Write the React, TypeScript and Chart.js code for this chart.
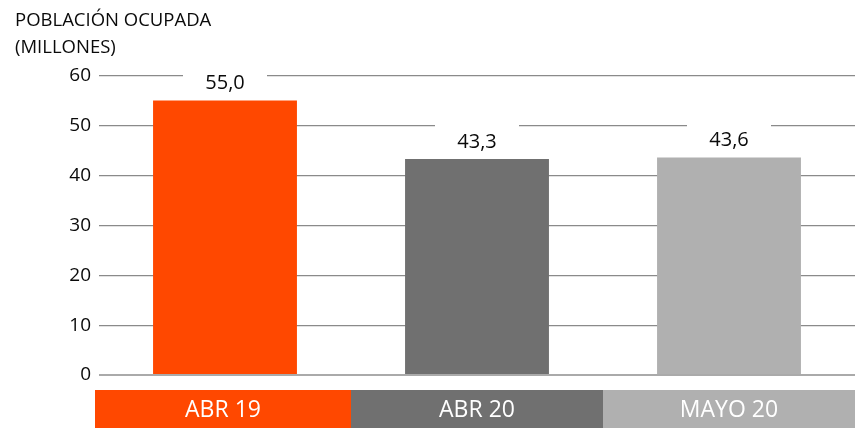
import React, { useEffect, useRef } from "react";
import { Chart, registerables } from "chart.js";

Chart.register(...registerables);

const categories: string[] = ["ABR 19", "ABR 20", "MAYO 20"];
const values: number[] = [55.0, 43.3, 43.6];
const valueLabels: string[] = ["55,0", "43,3", "43,6"];
const barColors: string[] = ["#FF4800", "#707070", "#B0B0B0"];
const titleLines: string[] = ["POBLACIÓN OCUPADA", "(MILLONES)"];
const yMin = 0;
const yMax = 60;
const yStep = 10;

const FONT = "'Open Sans', 'Noto Sans', sans-serif";

const barLabelPlugin = {
  id: "barLabelPlugin",
  afterDatasetsDraw(chart: any) {
    const ctx = chart.ctx;
    const meta = chart.getDatasetMeta(0);
    ctx.save();
    meta.data.forEach((el: any, i: number) => {
      const x = el.x;
      const y = el.y;
      ctx.fillStyle = "#ffffff";
      ctx.fillRect(x - 42, y - 36, 84, 32);
      ctx.fillStyle = "#0a0a0a";
      ctx.font = `20px ${FONT}`;
      ctx.textAlign = "center";
      ctx.textBaseline = "middle";
      ctx.fillText(valueLabels[i], x, y - 17);
    });
    ctx.restore();
  },
};

const categoryBoxPlugin = {
  id: "categoryBoxPlugin",
  afterDraw(chart: any) {
    const ctx = chart.ctx;
    const xs = chart.scales.x;
    const area = chart.chartArea;
    const n = categories.length;
    const half = (area.right - area.left) / n / 2;
    const top = area.bottom + 15;
    const bottom = chart.height;
    ctx.save();
    categories.forEach((label, i) => {
      const c = xs.getPixelForValue(i);
      const left = i === 0 ? area.left - 4 : c - half;
      const right = i === n - 1 ? chart.width : c + half;
      ctx.fillStyle = barColors[i];
      ctx.fillRect(left, top, right - left, bottom - top);
      ctx.fillStyle = "#ffffff";
      ctx.font = `23px ${FONT}`;
      ctx.textAlign = "center";
      ctx.textBaseline = "middle";
      ctx.fillText(label, (left + right) / 2, (top + bottom) / 2 + 1);
    });
    ctx.restore();
  },
};

export default function App() {
  const canvasRef = useRef<HTMLCanvasElement | null>(null);

  useEffect(() => {
    document.body.style.margin = "0";
    const canvas = canvasRef.current;
    if (!canvas) return;
    const chart = new Chart(canvas, {
      type: "bar",
      data: {
        labels: categories,
        datasets: [
          {
            data: values,
            backgroundColor: barColors,
            borderWidth: 0,
            categoryPercentage: 1,
            barPercentage: 0.571,
          },
        ],
      },
      options: {
        animation: false,
        responsive: true,
        maintainAspectRatio: false,
        layout: { padding: { left: 15, right: 0, top: 0, bottom: 53 } },
        plugins: {
          legend: { display: false },
          tooltip: { enabled: false },
          title: {
            display: true,
            text: titleLines,
            align: "start",
            color: "#0a0a0a",
            font: { family: FONT, size: 18.5, weight: "normal", lineHeight: 1.45 },
            padding: { top: 7, bottom: 15 },
          },
        },
        scales: {
          x: {
            display: false,
            grid: { display: false },
          },
          y: {
            min: yMin,
            max: yMax,
            border: { display: false },
            afterFit(scale: any) {
              scale.width = 84;
            },
            grid: {
              drawTicks: false,
              color: (c: any) => (c.tick && c.tick.value === 0 ? "#AAAAAA" : "#8A8A8A"),
              lineWidth: (c: any) => (c.tick && c.tick.value === 0 ? 2 : 1.2),
            },
            ticks: {
              stepSize: yStep,
              padding: 8,
              color: "#0a0a0a",
              font: { family: FONT, size: 19 },
            },
          },
        },
      },
      plugins: [barLabelPlugin, categoryBoxPlugin],
    });
    return () => chart.destroy();
  }, []);

  return (
    <div style={{ position: "relative", width: "855px", height: "428px", background: "#ffffff" }}>
      <canvas ref={canvasRef} />
    </div>
  );
}
